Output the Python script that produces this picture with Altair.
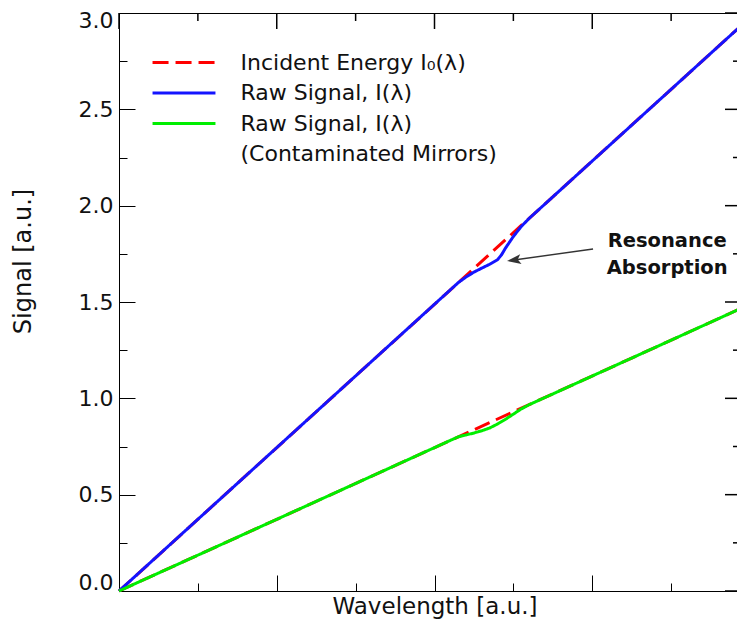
import altair as alt
import pandas as pd

# ---------------- data ----------------
red_x = [0.0, 8.0]
red_upper_y = [0.0, 2.976]
red_lower_y = [0.0, 1.488]

blue_x = [0.0, 4.3, 4.4, 4.5, 4.6, 4.7, 4.8, 4.85, 4.9, 5.0, 5.1, 5.2, 8.0]
blue_y = [0.0, 1.600, 1.630, 1.655, 1.676, 1.696, 1.720, 1.745, 1.780, 1.840, 1.892, 1.934, 2.976]

green_x = [0.0, 4.3, 4.4, 4.5, 4.6, 4.7, 4.8, 4.9, 5.0, 5.1, 5.2, 8.0]
green_y = [0.0, 0.800, 0.810, 0.820, 0.832, 0.846, 0.867, 0.891, 0.918, 0.945, 0.967, 1.488]

series_names = ["Incident Energy I₀(λ)", "Raw Signal, I(λ)", "Raw Signal, I(λ) ", "(Contaminated Mirrors)"]
series_colors = ["#ff0000", "#1414ff", "#00ee00", "transparent"]
series_dashes = [[16, 7], [1, 0], [1, 0], [1, 0]]

# tick positions
x_major = [0, 2, 4, 6, 8]
x_minor = [1, 3, 5, 7]
y_major = [0.0, 0.5, 1.0, 1.5, 2.0, 2.5, 3.0]
y_minor = [0.25, 0.75, 1.25, 1.75, 2.25, 2.75]

note_text = ["Resonance", "Absorption"]
note_x = [6.95, 6.95]
note_y = [1.817, 1.676]

arrow_tail = (6.010, 1.775)
arrow_head = (5.007, 1.718)

# ---------------- tables ----------------
red_df = pd.DataFrame({
    "x": red_x + red_x,
    "y": red_upper_y + red_lower_y,
    "series": [series_names[0]] * 4,
    "line": ["r1", "r1", "r2", "r2"],
})
sig_df = pd.DataFrame({
    "x": blue_x + green_x,
    "y": blue_y + green_y,
    "series": [series_names[1]] * len(blue_x) + [series_names[2]] * len(green_x),
    "line": ["b"] * len(blue_x) + ["g"] * len(green_x),
})
note_df = pd.DataFrame({"x": note_x, "y": note_y, "t": note_text})
arrow_df = pd.DataFrame({"x": [arrow_tail[0]], "y": [arrow_tail[1]],
                         "x2": [arrow_head[0]], "y2": [arrow_head[1]]})
head_df = pd.DataFrame({"x": [arrow_head[0]], "y": [arrow_head[1]]})
xmaj_df = pd.DataFrame({"v": x_major})
xmin_df = pd.DataFrame({"v": x_minor})
ymaj_df = pd.DataFrame({"v": y_major})
ymin_df = pd.DataFrame({"v": y_minor})

FONT = "DejaVu Sans"
W, H = 618, 578
xs = alt.Scale(domain=[0, 8], range=[0, 631], nice=False, zero=False)
ys = alt.Scale(domain=[0, 3], nice=False, zero=False)

BASE = dict(grid=False, ticks=True, tickColor="black", tickWidth=1,
            domainColor="black", domainWidth=1, labels=False, title=None)


def inner_axis(orient, values, size, **kw):
    # axis on the bottom / left edge, ticks pointing into the plot
    opts = dict(BASE)
    opts.update(kw)
    return alt.Axis(orient=orient, values=values, tickSize=alt.ExprRef(expr=str(-size)), **opts)


legend = alt.Legend(
    title=None, orient="none", legendX=52.5, legendY=37, padding=0,
    symbolType="M-2.86,0H2.86", symbolSize=484, symbolStrokeWidth=3,
    labelFont=FONT, labelFontSize=22, labelColor="#111", labelOffset=44,
    rowPadding=6.5, labelLimit=600,
)
color_enc = alt.Color("series:N", scale=alt.Scale(domain=series_names, range=series_colors), legend=legend)
dash_enc = alt.StrokeDash("series:N", scale=alt.Scale(domain=series_names, range=series_dashes), legend=legend)

x_bottom_major = inner_axis("bottom", x_major, 16, domain=True,
                            title="Wavelength [a.u.]", titleFont=FONT, titleFontSize=23,
                            titleFontWeight="normal", titleColor="#111", titlePadding=4)
y_left_major = inner_axis("left", y_major, 16, domain=True, labels=True, format=".1f",
                          labelFont=FONT, labelFontSize=22, labelColor="#111", labelPadding=22,
                          labelFlush=True, labelFlushOffset=3,
                          title="Signal [a.u.]", titleFont=FONT, titleFontSize=24,
                          titleFontWeight="normal", titleColor="#111", titleX=-96, titleY=248,
                          titleBaseline="middle")
x_top_line = alt.Axis(orient="bottom", offset=-H, ticks=False, labels=False, grid=False,
                      domain=True, domainColor="black", domainWidth=1, title=None)
x_bottom_minor = inner_axis("bottom", x_minor, 8, domain=False)
y_left_minor = inner_axis("left", y_minor, 8, domain=False)

red_layer = alt.Chart(red_df).mark_line(strokeWidth=3).encode(
    x=alt.X("x:Q", scale=xs, axis=x_bottom_major),
    y=alt.Y("y:Q", scale=ys, axis=y_left_major),
    color=color_enc,
    strokeDash=dash_enc,
    detail="line:N",
)

sig_layer = alt.Chart(sig_df).mark_line(strokeWidth=3).encode(
    x=alt.X("x:Q", scale=xs, axis=x_top_line),
    y=alt.Y("y:Q", scale=ys, axis=None),
    color=color_enc,
    strokeDash=dash_enc,
    detail="line:N",
)

note_layer = alt.Chart(note_df).mark_text(
    font=FONT, fontWeight="bold", fontSize=19.5, color="#111", align="center", baseline="middle"
).encode(
    x=alt.X("x:Q", scale=xs, axis=x_bottom_minor),
    y=alt.Y("y:Q", scale=ys, axis=y_left_minor),
    text="t:N",
)

arrow_layer = alt.Chart(arrow_df).mark_rule(color="#333333", strokeWidth=1.4).encode(
    x=alt.X("x:Q", scale=xs, axis=None),
    y=alt.Y("y:Q", scale=ys, axis=None),
    x2="x2:Q",
    y2="y2:Q",
)

head_layer = alt.Chart(head_df).mark_point(
    shape="M0,-1L0.7,1L0,0.55L-0.7,1Z", filled=True, size=196, angle=262,
    color="#333333", opacity=1,
).encode(
    x=alt.X("x:Q", scale=xs, axis=None),
    y=alt.Y("y:Q", scale=ys, axis=None),
)

# mirrored ticks on the top and right frame edges (positions through the scales)
top_major = alt.Chart(xmaj_df).mark_rule(color="black", strokeWidth=1.5).encode(
    x=alt.X("v:Q", scale=xs, axis=None), y=alt.value(0), y2=alt.value(16))
top_minor = alt.Chart(xmin_df).mark_rule(color="black", strokeWidth=1.5).encode(
    x=alt.X("v:Q", scale=xs, axis=None), y=alt.value(0), y2=alt.value(8))
right_major = alt.Chart(ymaj_df).mark_rule(color="black", strokeWidth=1.5).encode(
    y=alt.Y("v:Q", scale=ys, axis=None), x=alt.value(W), x2=alt.value(W - 12))
right_minor = alt.Chart(ymin_df).mark_rule(color="black", strokeWidth=1.5).encode(
    y=alt.Y("v:Q", scale=ys, axis=None), x=alt.value(W), x2=alt.value(W - 4))

chart = alt.layer(
    red_layer, sig_layer, note_layer, arrow_layer, head_layer,
    top_major, top_minor, right_major, right_minor,
).resolve_axis(
    x="independent", y="independent"
).properties(
    width=W, height=H,
    autosize=alt.AutoSizeParams(type="none"),
    padding={"left": 111, "top": 5, "right": 0, "bottom": 30},
    background="white",
).configure(font=FONT).configure_view(stroke=None)

chart.save("out.html", embed_options={"renderer": "svg", "actions": False})
